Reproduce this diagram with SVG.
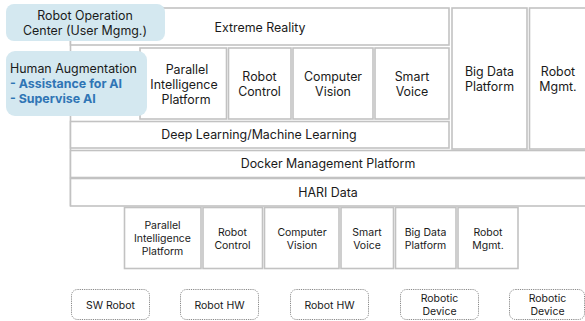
<svg xmlns="http://www.w3.org/2000/svg" width="585" height="321" viewBox="0 0 585 321">
  <style>
    text { font-family: Inter, "Noto Sans", "Liberation Sans", sans-serif; fill: #1a1a1a; text-anchor: middle; }
    .t12 { font-size: 12.4px; }
    .t11 { font-size: 10.5px; }
    .cell { fill: #ffffff; stroke: #c2c2c2; stroke-width: 1.6; }
    .bubble { fill: #d4e8f0; stroke: none; }
    .dev { fill: #ffffff; stroke: #7a7a7a; stroke-width: 0.9; stroke-dasharray: 1.2 1; }
    .blue { fill: #2f75b5; font-weight: bold; }
    .left { text-anchor: start; }
  </style>

  <!-- connectors: vertical rail from the operation center down the stack -->
  <g id="connectors">
    <line x1="70.5" y1="40" x2="70.5" y2="206" stroke="#c2c2c2" stroke-width="1.6"/>
  </g>

  <!-- upper platform stack -->
  <g id="extreme-reality">
    <rect class="cell" x="70.5" y="8" width="378.5" height="37"/>
    <text class="t12" x="260" y="32">Extreme Reality</text>
  </g>
  <g id="parallel-intelligence">
    <rect class="cell" x="140" y="48" width="86.5" height="71"/>
    <text class="t12" x="187" y="74">Parallel</text>
    <text class="t12" x="184" y="89">Intelligence</text>
    <text class="t12" x="186" y="104">Platform</text>
  </g>
  <g id="robot-control">
    <rect class="cell" x="228.5" y="48" width="62.5" height="71"/>
    <text class="t12" x="259.5" y="81">Robot</text>
    <text class="t12" x="259.5" y="96">Control</text>
  </g>
  <g id="computer-vision">
    <rect class="cell" x="293" y="48" width="80" height="71"/>
    <text class="t12" x="333" y="81">Computer</text>
    <text class="t12" x="333" y="96">Vision</text>
  </g>
  <g id="smart-voice">
    <rect class="cell" x="375" y="48" width="74" height="71"/>
    <text class="t12" x="412" y="81">Smart</text>
    <text class="t12" x="412" y="96">Voice</text>
  </g>
  <g id="deep-learning">
    <rect class="cell" x="70.5" y="121.5" width="378.5" height="26.5"/>
    <text class="t12" x="259" y="139">Deep Learning/Machine Learning</text>
  </g>
  <g id="big-data-platform">
    <rect class="cell" x="452" y="8" width="75" height="141"/>
    <text class="t12" x="489.5" y="76">Big Data</text>
    <text class="t12" x="489.5" y="91">Platform</text>
  </g>
  <g id="robot-mgmt">
    <rect class="cell" x="529.5" y="8" width="60" height="141"/>
    <text class="t12" x="558" y="76">Robot</text>
    <text class="t12" x="558" y="91">Mgmt.</text>
  </g>
  <g id="docker-management">
    <rect class="cell" x="70.5" y="150.5" width="520" height="27"/>
    <text class="t12" x="328" y="168">Docker Management Platform</text>
  </g>
  <g id="hari-data">
    <rect class="cell" x="70.5" y="178.5" width="520" height="27.5"/>
    <text class="t12" x="328" y="197">HARI Data</text>
  </g>

  <!-- operation center and human augmentation call-outs -->
  <g id="robot-operation-center">
    <rect class="bubble" x="6" y="4" width="159" height="37" rx="8"/>
    <text class="t12" x="85" y="20">Robot Operation</text>
    <text class="t12" x="85" y="35">Center (User Mgmg.)</text>
  </g>
  <g id="human-augmentation">
    <rect class="bubble" x="6" y="51" width="141" height="65" rx="9"/>
    <text class="t12 left" x="10" y="73">Human Augmentation</text>
    <text class="t12 blue left" x="10" y="88">- Assistance for AI</text>
    <text class="t12 blue left" x="10" y="103">- Supervise AI</text>
  </g>

  <!-- lower module row -->
  <g id="pi-platform-module">
    <rect class="cell" x="124.5" y="207.5" width="76.5" height="61"/>
    <text class="t11" x="162.5" y="229">Parallel</text>
    <text class="t11" x="162.5" y="242">Intelligence</text>
    <text class="t11" x="162.5" y="255">Platform</text>
  </g>
  <g id="robot-control-module">
    <rect class="cell" x="203" y="207.5" width="59.5" height="61"/>
    <text class="t11" x="232.5" y="236">Robot</text>
    <text class="t11" x="232.5" y="249">Control</text>
  </g>
  <g id="computer-vision-module">
    <rect class="cell" x="264.5" y="207.5" width="74.5" height="61"/>
    <text class="t11" x="302" y="236">Computer</text>
    <text class="t11" x="302" y="249">Vision</text>
  </g>
  <g id="smart-voice-module">
    <rect class="cell" x="341" y="207.5" width="52.5" height="61"/>
    <text class="t11" x="367" y="236">Smart</text>
    <text class="t11" x="367" y="249">Voice</text>
  </g>
  <g id="big-data-module">
    <rect class="cell" x="395.5" y="207.5" width="60.5" height="61"/>
    <text class="t11" x="425.5" y="236">Big Data</text>
    <text class="t11" x="425.5" y="249">Platform</text>
  </g>
  <g id="robot-mgmt-module">
    <rect class="cell" x="458" y="207.5" width="60" height="61"/>
    <text class="t11" x="488" y="236">Robot</text>
    <text class="t11" x="488" y="249">Mgmt.</text>
  </g>

  <!-- device layer -->
  <g id="sw-robot">
    <rect class="dev" x="71.5" y="289.5" width="78" height="30" rx="6"/>
    <text class="t11" x="110.5" y="309">SW Robot</text>
  </g>
  <g id="robot-hw-1">
    <rect class="dev" x="180.5" y="289.5" width="78" height="30" rx="6"/>
    <text class="t11" x="219.5" y="309">Robot HW</text>
  </g>
  <g id="robot-hw-2">
    <rect class="dev" x="290.5" y="289.5" width="78" height="30" rx="6"/>
    <text class="t11" x="329.5" y="309">Robot HW</text>
  </g>
  <g id="robotic-device-1">
    <rect class="dev" x="400.5" y="289.5" width="78" height="30" rx="6"/>
    <text class="t11" x="439.5" y="302">Robotic</text>
    <text class="t11" x="439.5" y="315">Device</text>
  </g>
  <g id="robotic-device-2">
    <rect class="dev" x="509.5" y="289.5" width="75" height="30" rx="6"/>
    <text class="t11" x="547.5" y="302">Robotic</text>
    <text class="t11" x="547.5" y="315">Device</text>
  </g>
</svg>
